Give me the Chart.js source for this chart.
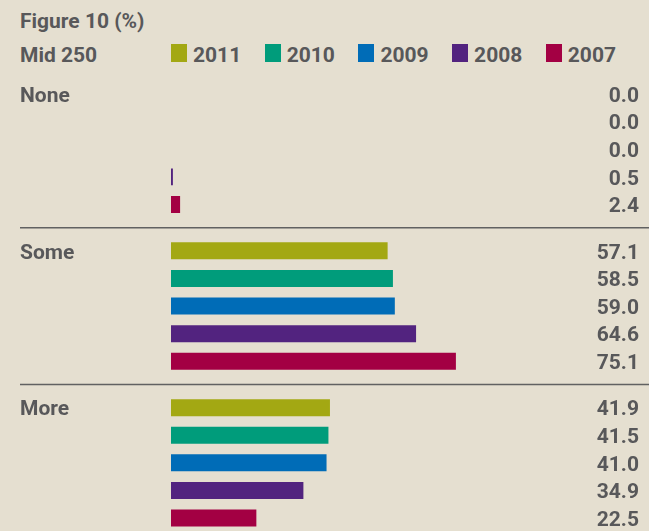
<!DOCTYPE html>
<html>
<head>
<meta charset="utf-8">
<script src="https://cdn.jsdelivr.net/npm/chart.js@4/dist/chart.umd.min.js"></script>
<style>
  html, body { margin: 0; padding: 0; background: #E5DFD0; overflow: hidden; }
  body { width: 649px; height: 531px; position: relative; font-family: Roboto, "Liberation Sans", sans-serif; font-weight: bold; color: #58585A; }
  .txt { position: absolute; font-size: 21px; line-height: 21px; white-space: nowrap; }
  #title { left: 20px; top: 11px; }
  #sub { left: 20px; top: 45px; }
  #legend { position: absolute; left: 171px; top: 44px; display: flex; align-items: flex-start; }
  #legend .item { display: flex; align-items: flex-start; margin-right: 23.5px; }
  #legend .box { width: 16px; height: 18px; margin-right: 6px; }
  #legend .lbl { font-size: 21px; line-height: 21px; margin-top: 1px; }
  #chart { position: absolute; left: 0; top: 0; }
</style>
</head>
<body>
<div class="txt" id="title">Figure 10 (%)</div>
<div class="txt" id="sub">Mid 250</div>
<div id="legend"></div>
<canvas id="chart" width="649" height="560"></canvas>
<script>
// shares by answer group, one series per year
const categories = ['None', 'Some', 'More'];
const years = ['2011', '2010', '2009', '2008', '2007'];
const values2011 = [0.0, 57.1, 41.9];
const values2010 = [0.0, 58.5, 41.5];
const values2009 = [0.0, 59.0, 41.0];
const values2008 = [0.5, 64.6, 34.9];
const values2007 = [2.4, 75.1, 22.5];
const colors = ['#A3A813', '#009C7B', '#006CB7', '#52237F', '#A30043'];

const seriesValues = [values2011, values2010, values2009, values2008, values2007];
const textColor = '#58585A';
const font = 'bold 21px Roboto, "Liberation Sans", sans-serif';

// legend row
const legend = document.getElementById('legend');
years.forEach((y, i) => {
  const item = document.createElement('div');
  item.className = 'item';
  item.innerHTML = `<div class="box" style="background:${colors[i]}"></div><div class="lbl">${y}</div>`;
  legend.appendChild(item);
});

// group names, separators and value labels
const decorations = {
  id: 'decorations',
  afterDatasetsDraw(chart) {
    const ctx = chart.ctx;
    const yScale = chart.scales.y;
    ctx.save();

    // separators between groups
    ctx.strokeStyle = '#616161';
    ctx.lineWidth = 1.5;
    for (let i = 0; i < categories.length - 1; i++) {
      const yPos = (yScale.getPixelForTick(i) + yScale.getPixelForTick(i + 1)) / 2;
      ctx.beginPath();
      ctx.moveTo(20, yPos);
      ctx.lineTo(chart.width, yPos);
      ctx.stroke();
    }

    ctx.font = font;
    ctx.fillStyle = textColor;
    ctx.textBaseline = 'alphabetic';

    // group name next to first bar of each group
    ctx.textAlign = 'left';
    const first = chart.getDatasetMeta(0).data;
    categories.forEach((c, i) => {
      ctx.fillText(c, 20, first[i].y + 7.8);
    });

    // value at the right end of each row
    ctx.textAlign = 'right';
    chart.data.datasets.forEach((ds, di) => {
      chart.getDatasetMeta(di).data.forEach((bar, i) => {
        ctx.fillText(ds.data[i].toFixed(1), 639, bar.y + 7.8);
      });
    });
    ctx.restore();
  }
};

new Chart(document.getElementById('chart'), {
  type: 'bar',
  data: {
    labels: categories,
    datasets: years.map((y, i) => ({
      label: y,
      data: seriesValues[i],
      backgroundColor: colors[i],
      borderWidth: 0,
      categoryPercentage: 0.88,
      barPercentage: 0.616
    }))
  },
  options: {
    indexAxis: 'y',
    responsive: false,
    animation: false,
    devicePixelRatio: 1,
    layout: { padding: { left: 171, right: 0, top: 70.9, bottom: 18.8 } },
    plugins: { legend: { display: false }, tooltip: { enabled: false } },
    scales: {
      x: { display: false, min: 0, max: 126 },
      y: { display: false }
    }
  },
  plugins: [decorations]
});
</script>
</body>
</html>
